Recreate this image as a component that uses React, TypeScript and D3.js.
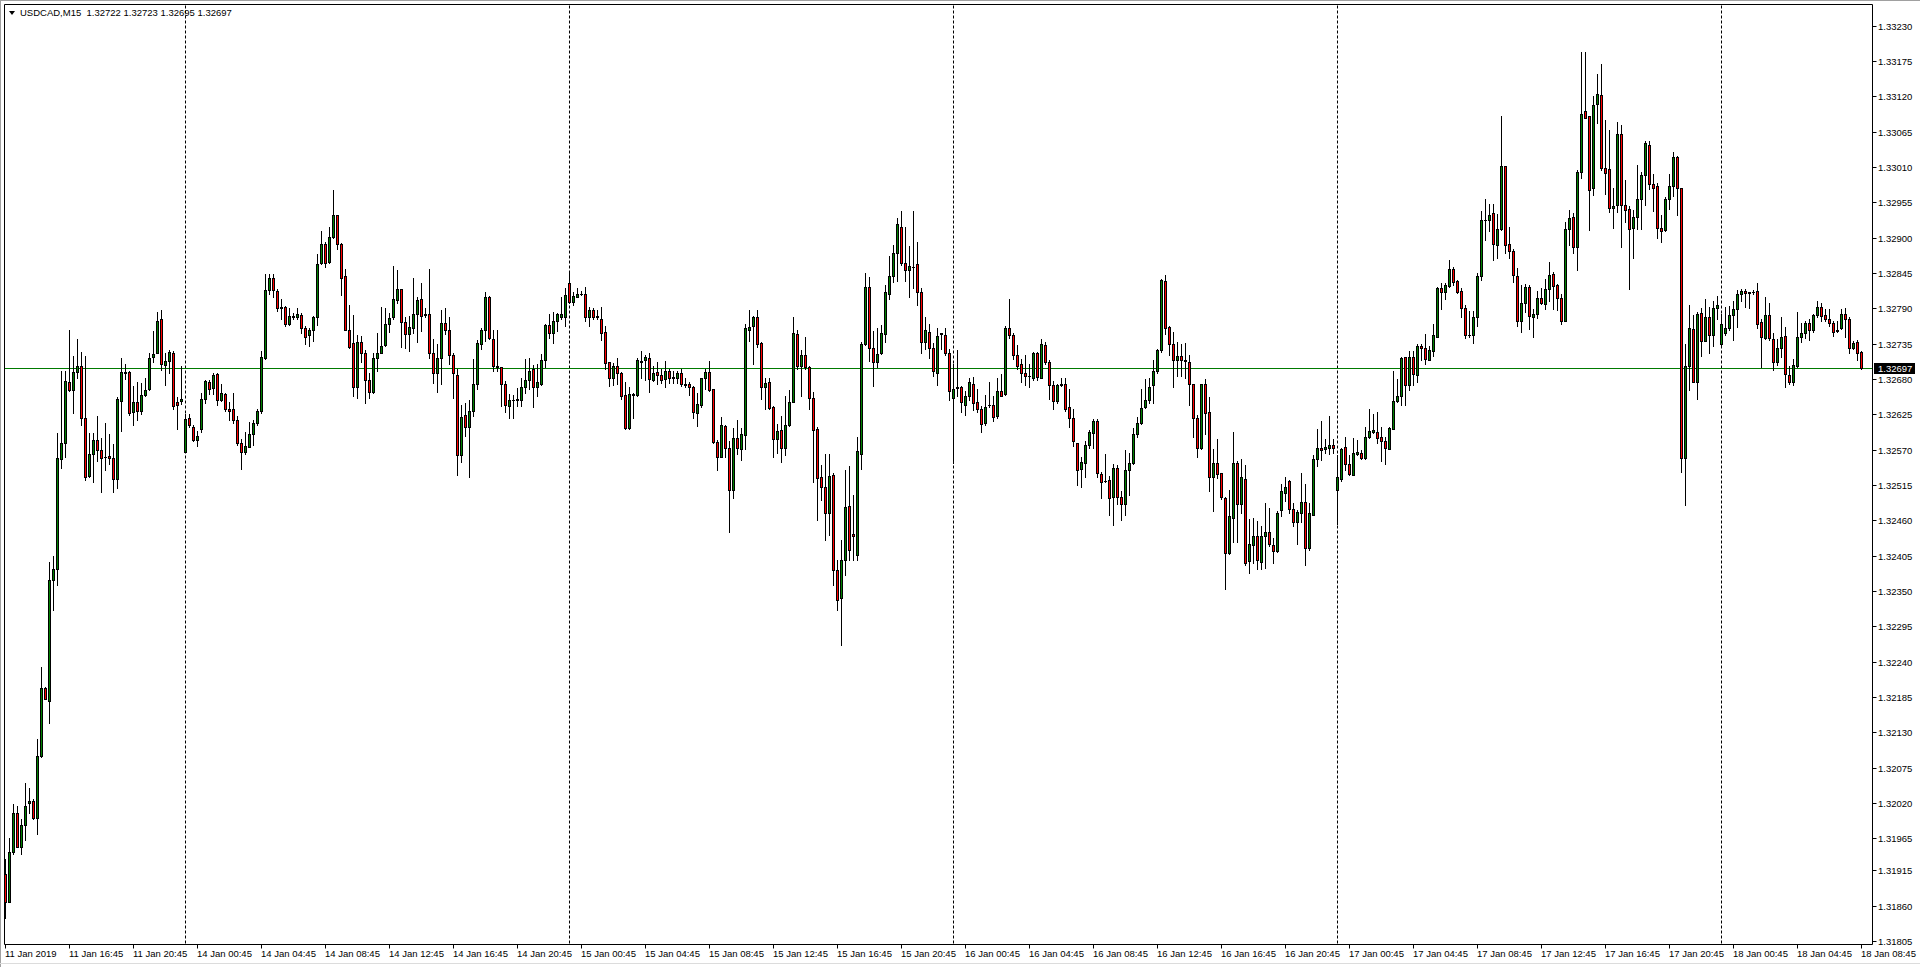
import React from "react";
import * as d3 from "d3";

// USDCAD M15 bars, 11 Jan 2019 12:45 -> 18 Jan 2019 08:45
const openPrices = [
1.31910,1.31866,1.31943,1.32005,1.31952,1.31985,1.32020,1.32023,1.31996,1.32093,
1.32199,1.32179,1.32367,1.32384,1.32555,1.32580,1.32675,1.32663,1.32691,1.32701,
1.32619,1.32529,1.32563,1.32585,1.32569,1.32559,1.32560,1.32557,1.32524,1.32646,
1.32691,1.32691,1.32628,1.32644,1.32630,1.32655,1.32664,1.32715,1.32721,1.32773,
1.32702,1.32708,1.32721,1.32644,1.32646,1.32567,1.32619,1.32605,1.32585,1.32602,
1.32649,1.32675,1.32666,1.32688,1.32648,1.32657,1.32633,1.32633,1.32616,1.32580,
1.32566,1.32574,1.32594,1.32611,1.32630,1.32713,1.32818,1.32837,1.32817,1.32792,
1.32792,1.32766,1.32777,1.32776,1.32779,1.32759,1.32748,1.32756,1.32777,1.32860,
1.32890,1.32863,1.32901,1.32935,1.32891,1.32840,1.32756,1.32736,1.32668,1.32737,
1.32721,1.32678,1.32660,1.32713,1.32721,1.32733,1.32766,1.32776,1.32803,1.32820,
1.32769,1.32750,1.32759,1.32781,1.32804,1.32781,1.32781,1.32721,1.32689,1.32712,
1.32767,1.32756,1.32718,1.32687,1.32561,1.32624,1.32605,1.32631,1.32672,1.32734,
1.32756,1.32808,1.32743,1.32700,1.32698,1.32672,1.32638,1.32648,1.32648,1.32648,
1.32668,1.32679,1.32696,1.32668,1.32673,1.32709,1.32764,1.32752,1.32770,1.32777,
1.32777,1.32829,1.32800,1.32808,1.32813,1.32812,1.32777,1.32788,1.32778,1.32773,
1.32753,1.32706,1.32682,1.32700,1.32689,1.32655,1.32603,1.32655,1.32655,1.32708,
1.32710,1.32712,1.32678,1.32691,1.32686,1.32680,1.32693,1.32682,1.32681,1.32689,
1.32673,1.32673,1.32668,1.32627,1.32639,1.32681,1.32691,1.32664,1.32582,1.32559,
1.32607,1.32572,1.32508,1.32588,1.32571,1.32593,1.32757,1.32762,1.32777,1.32736,
1.32667,1.32675,1.32637,1.32587,1.32601,1.32573,1.32608,1.32645,1.32750,1.32700,
1.32717,1.32698,1.32651,1.32602,1.32528,1.32512,1.32472,1.32530,1.32382,1.32339,
1.32398,1.32482,1.32439,1.32406,1.32564,1.32734,1.32823,1.32728,1.32706,1.32720,
1.32750,1.32813,1.32840,1.32877,1.32917,1.32860,1.32850,1.32855,1.32859,1.32815,
1.32738,1.32753,1.32728,1.32689,1.32751,1.32748,1.32721,1.32650,1.32666,1.32668,
1.32639,1.32654,1.32673,1.32644,1.32633,1.32611,1.32639,1.32639,1.32622,1.32661,
1.32656,1.32759,1.32749,1.32717,1.32703,1.32689,1.32684,1.32682,1.32720,1.32682,
1.32733,1.32707,1.32670,1.32646,1.32671,1.32672,1.32637,1.32619,1.32580,1.32540,
1.32550,1.32577,1.32596,1.32615,1.32532,1.32521,1.32523,1.32497,1.32541,1.32496,
1.32485,1.32538,1.32549,1.32594,1.32611,1.32637,1.32647,1.32671,1.32692,1.32725,
1.32833,1.32761,1.32734,1.32710,1.32716,1.32709,1.32707,1.32672,1.32619,1.32572,
1.32672,1.32628,1.32528,1.32550,1.32533,1.32495,1.32409,1.32464,1.32549,1.32485,
1.32525,1.32397,1.32421,1.32436,1.32395,1.32436,1.32442,1.32422,1.32412,1.32476,
1.32503,1.32521,1.32478,1.32458,1.32472,1.32489,1.32417,1.32469,1.32555,1.32573,
1.32571,1.32573,1.32578,1.32507,1.32524,1.32574,1.32547,1.32530,1.32563,1.32565,
1.32557,1.32589,1.32598,1.32598,1.32589,1.32583,1.32571,1.32602,1.32646,1.32653,
1.32714,1.32670,1.32715,1.32686,1.32731,1.32728,1.32710,1.32724,1.32746,1.32822,
1.32815,1.32825,1.32852,1.32832,1.32817,1.32791,1.32749,1.32748,1.32776,1.32841,
1.32928,1.32927,1.32939,1.32889,1.32914,1.33012,1.32890,1.32880,1.32841,1.32770,
1.32799,1.32824,1.32777,1.32782,1.32806,1.32797,1.32820,1.32844,1.32827,1.32806,
1.32771,1.32914,1.32932,1.32886,1.33003,1.33098,1.33089,1.32978,1.33108,1.33123,
1.33009,1.33007,1.32946,1.32951,1.33062,1.32951,1.32945,1.32915,1.32933,1.32960,
1.32997,1.33045,1.32984,1.32981,1.32915,1.32912,1.32960,1.32981,1.33026,1.32977,
1.32557,1.32700,1.32758,1.32676,1.32783,1.32739,1.32777,1.32748,1.32790,1.32734,
1.32751,1.32759,1.32780,1.32789,1.32812,1.32817,1.32815,1.32816,1.32817,1.32769,
1.32744,1.32780,1.32742,1.32706,1.32729,1.32747,1.32687,1.32676,1.32701,1.32745,
1.32751,1.32767,1.32756,1.32779,1.32792,1.32779,1.32773,1.32767,1.32756,1.32759,
1.32781,1.32773,1.32728,1.32737,1.32722
];

const highPrices = [
1.31932,1.31965,1.32018,1.32015,1.31995,1.32051,1.32043,1.32026,1.32120,1.32231,
1.32201,1.32395,1.32405,1.32596,1.32693,1.32693,1.32757,1.32716,1.32743,1.32722,
1.32716,1.32596,1.32596,1.32622,1.32588,1.32611,1.32594,1.32579,1.32652,1.32713,
1.32704,1.32693,1.32669,1.32676,1.32674,1.32682,1.32720,1.32755,1.32785,1.32787,
1.32720,1.32725,1.32724,1.32652,1.32701,1.32626,1.32626,1.32609,1.32599,1.32658,
1.32679,1.32678,1.32689,1.32689,1.32672,1.32659,1.32644,1.32658,1.32622,1.32587,
1.32597,1.32613,1.32616,1.32634,1.32724,1.32844,1.32843,1.32843,1.32820,1.32804,
1.32794,1.32790,1.32783,1.32790,1.32783,1.32763,1.32759,1.32778,1.32875,1.32911,
1.32894,1.32917,1.32975,1.32935,1.32892,1.32851,1.32795,1.32780,1.32749,1.32747,
1.32725,1.32690,1.32721,1.32751,1.32792,1.32790,1.32783,1.32856,1.32850,1.32820,
1.32777,1.32778,1.32837,1.32807,1.32829,1.32790,1.32852,1.32742,1.32735,1.32787,
1.32791,1.32777,1.32721,1.32695,1.32640,1.32642,1.32647,1.32711,1.32741,1.32760,
1.32816,1.32809,1.32757,1.32756,1.32699,1.32677,1.32656,1.32655,1.32666,1.32682,
1.32711,1.32712,1.32702,1.32703,1.32719,1.32765,1.32782,1.32784,1.32783,1.32807,
1.32821,1.32845,1.32815,1.32821,1.32817,1.32823,1.32792,1.32790,1.32788,1.32792,
1.32762,1.32706,1.32705,1.32712,1.32691,1.32675,1.32668,1.32659,1.32712,1.32723,
1.32717,1.32721,1.32700,1.32706,1.32695,1.32708,1.32695,1.32693,1.32693,1.32696,
1.32682,1.32675,1.32669,1.32658,1.32682,1.32696,1.32708,1.32665,1.32585,1.32621,
1.32608,1.32583,1.32603,1.32616,1.32603,1.32765,1.32787,1.32778,1.32787,1.32737,
1.32682,1.32681,1.32638,1.32610,1.32622,1.32654,1.32663,1.32777,1.32756,1.32725,
1.32746,1.32700,1.32660,1.32605,1.32546,1.32564,1.32564,1.32534,1.32398,1.32429,
1.32538,1.32544,1.32499,1.32590,1.32737,1.32845,1.32839,1.32755,1.32760,1.32764,
1.32826,1.32872,1.32888,1.32930,1.32942,1.32916,1.32887,1.32942,1.32894,1.32821,
1.32777,1.32765,1.32736,1.32760,1.32752,1.32760,1.32726,1.32703,1.32725,1.32669,
1.32662,1.32682,1.32683,1.32665,1.32638,1.32655,1.32675,1.32654,1.32682,1.32688,
1.32763,1.32804,1.32752,1.32733,1.32711,1.32717,1.32704,1.32722,1.32722,1.32742,
1.32738,1.32710,1.32677,1.32672,1.32682,1.32682,1.32665,1.32633,1.32581,1.32559,
1.32584,1.32600,1.32617,1.32617,1.32535,1.32563,1.32529,1.32547,1.32546,1.32506,
1.32570,1.32565,1.32604,1.32621,1.32664,1.32680,1.32682,1.32709,1.32726,1.32835,
1.32842,1.32763,1.32753,1.32737,1.32734,1.32736,1.32717,1.32673,1.32624,1.32673,
1.32680,1.32652,1.32571,1.32586,1.32534,1.32497,1.32508,1.32598,1.32552,1.32556,
1.32546,1.32462,1.32463,1.32459,1.32451,1.32487,1.32479,1.32432,1.32475,1.32516,
1.32528,1.32523,1.32487,1.32476,1.32534,1.32516,1.32487,1.32561,1.32602,1.32614,
1.32586,1.32622,1.32587,1.32561,1.32572,1.32590,1.32561,1.32588,1.32585,1.32569,
1.32605,1.32634,1.32625,1.32628,1.32605,1.32590,1.32606,1.32693,1.32680,1.32715,
1.32715,1.32723,1.32723,1.32735,1.32734,1.32750,1.32731,1.32765,1.32824,1.32829,
1.32830,1.32866,1.32854,1.32834,1.32822,1.32796,1.32786,1.32786,1.32845,1.32942,
1.32961,1.32953,1.32952,1.32937,1.33090,1.33012,1.32916,1.32883,1.32853,1.32827,
1.32828,1.32826,1.32789,1.32817,1.32822,1.32836,1.32862,1.32846,1.32828,1.32812,
1.32925,1.32943,1.32938,1.33006,1.33189,1.33189,1.33090,1.33121,1.33155,1.33170,
1.33084,1.33067,1.32978,1.33080,1.33075,1.32990,1.32950,1.32943,1.33014,1.33002,
1.33051,1.33051,1.32999,1.32985,1.32936,1.32963,1.32999,1.33034,1.33028,1.32978,
1.32735,1.32796,1.32779,1.32784,1.32791,1.32805,1.32792,1.32801,1.32810,1.32781,
1.32792,1.32793,1.32802,1.32819,1.32820,1.32820,1.32816,1.32819,1.32829,1.32773,
1.32807,1.32799,1.32751,1.32742,1.32776,1.32761,1.32701,1.32711,1.32785,1.32767,
1.32771,1.32773,1.32781,1.32802,1.32798,1.32789,1.32789,1.32771,1.32771,1.32789,
1.32790,1.32776,1.32740,1.32741,1.32723
];

const lowPrices = [
1.31841,1.31865,1.31941,1.31951,1.31941,1.31963,1.32004,1.31995,1.31971,1.32092,
1.32182,1.32145,1.32320,1.32359,1.32542,1.32559,1.32661,1.32627,1.32681,1.32609,
1.32523,1.32527,1.32520,1.32552,1.32504,1.32538,1.32547,1.32504,1.32511,1.32599,
1.32680,1.32624,1.32609,1.32616,1.32625,1.32654,1.32663,1.32707,1.32720,1.32694,
1.32671,1.32690,1.32634,1.32602,1.32641,1.32566,1.32605,1.32583,1.32576,1.32597,
1.32643,1.32656,1.32657,1.32639,1.32646,1.32630,1.32616,1.32611,1.32577,1.32540,
1.32563,1.32574,1.32577,1.32609,1.32627,1.32711,1.32813,1.32808,1.32786,1.32774,
1.32763,1.32764,1.32773,1.32774,1.32752,1.32734,1.32731,1.32739,1.32764,1.32859,
1.32854,1.32860,1.32900,1.32883,1.32811,1.32756,1.32729,1.32654,1.32651,1.32707,
1.32642,1.32651,1.32659,1.32692,1.32720,1.32731,1.32753,1.32774,1.32799,1.32730,
1.32729,1.32723,1.32752,1.32738,1.32755,1.32776,1.32712,1.32674,1.32660,1.32673,
1.32750,1.32703,1.32651,1.32530,1.32551,1.32591,1.32528,1.32622,1.32664,1.32726,
1.32739,1.32743,1.32693,1.32693,1.32638,1.32629,1.32619,1.32620,1.32638,1.32638,
1.32659,1.32664,1.32637,1.32653,1.32670,1.32698,1.32744,1.32736,1.32755,1.32774,
1.32762,1.32799,1.32796,1.32808,1.32811,1.32770,1.32762,1.32774,1.32774,1.32741,
1.32696,1.32669,1.32671,1.32673,1.32649,1.32602,1.32602,1.32620,1.32654,1.32681,
1.32679,1.32660,1.32677,1.32673,1.32674,1.32668,1.32674,1.32674,1.32674,1.32669,
1.32667,1.32655,1.32620,1.32607,1.32637,1.32665,1.32661,1.32580,1.32538,1.32559,
1.32558,1.32442,1.32495,1.32563,1.32554,1.32571,1.32739,1.32703,1.32730,1.32649,
1.32633,1.32633,1.32559,1.32565,1.32551,1.32562,1.32607,1.32644,1.32695,1.32654,
1.32696,1.32634,1.32520,1.32460,1.32491,1.32429,1.32437,1.32359,1.32320,1.32266,
1.32375,1.32398,1.32398,1.32398,1.32540,1.32733,1.32708,1.32669,1.32699,1.32719,
1.32738,1.32805,1.32831,1.32833,1.32857,1.32833,1.32807,1.32822,1.32796,1.32720,
1.32727,1.32713,1.32684,1.32671,1.32727,1.32717,1.32648,1.32549,1.32653,1.32629,
1.32624,1.32648,1.32632,1.32628,1.32598,1.32608,1.32637,1.32615,1.32620,1.32654,
1.32655,1.32744,1.32711,1.32695,1.32676,1.32670,1.32668,1.32679,1.32678,1.32681,
1.32703,1.32649,1.32634,1.32643,1.32669,1.32630,1.32606,1.32576,1.32515,1.32512,
1.32528,1.32573,1.32573,1.32528,1.32495,1.32519,1.32468,1.32452,1.32486,1.32460,
1.32469,1.32499,1.32547,1.32590,1.32610,1.32635,1.32643,1.32643,1.32689,1.32722,
1.32750,1.32717,1.32668,1.32685,1.32685,1.32682,1.32639,1.32590,1.32558,1.32571,
1.32594,1.32506,1.32474,1.32526,1.32493,1.32353,1.32407,1.32426,1.32426,1.32472,
1.32390,1.32378,1.32394,1.32384,1.32384,1.32385,1.32420,1.32393,1.32411,1.32466,
1.32490,1.32472,1.32451,1.32423,1.32457,1.32390,1.32414,1.32468,1.32544,1.32554,
1.32565,1.32564,1.32565,1.32455,1.32521,1.32538,1.32530,1.32530,1.32562,1.32556,
1.32556,1.32588,1.32596,1.32580,1.32552,1.32547,1.32571,1.32602,1.32645,1.32639,
1.32640,1.32663,1.32670,1.32675,1.32709,1.32704,1.32709,1.32716,1.32745,1.32789,
1.32805,1.32824,1.32827,1.32814,1.32777,1.32744,1.32746,1.32736,1.32763,1.32834,
1.32896,1.32911,1.32866,1.32869,1.32912,1.32876,1.32869,1.32831,1.32763,1.32753,
1.32784,1.32758,1.32745,1.32775,1.32797,1.32789,1.32802,1.32789,1.32788,1.32765,
1.32770,1.32889,1.32876,1.32850,1.32993,1.33087,1.32912,1.32966,1.33078,1.33006,
1.32968,1.32940,1.32915,1.32940,1.32885,1.32924,1.32820,1.32869,1.32913,1.32913,
1.32951,1.32976,1.32941,1.32900,1.32893,1.32911,1.32945,1.32965,1.32936,1.32535,
1.32484,1.32663,1.32675,1.32649,1.32716,1.32739,1.32720,1.32731,1.32773,1.32733,
1.32749,1.32756,1.32741,1.32761,1.32801,1.32792,1.32790,1.32813,1.32760,1.32698,
1.32742,1.32741,1.32694,1.32702,1.32715,1.32667,1.32673,1.32670,1.32699,1.32737,
1.32744,1.32741,1.32753,1.32776,1.32771,1.32771,1.32763,1.32747,1.32753,1.32758,
1.32745,1.32720,1.32726,1.32709,1.32695
];

const closePrices = [
1.31866,1.31944,1.32005,1.31952,1.31985,1.32015,1.32023,1.31996,1.32093,1.32199,
1.32182,1.32367,1.32384,1.32557,1.32581,1.32677,1.32663,1.32691,1.32701,1.32619,
1.32528,1.32563,1.32585,1.32570,1.32557,1.32558,1.32557,1.32524,1.32649,1.32691,
1.32690,1.32627,1.32644,1.32630,1.32655,1.32663,1.32713,1.32719,1.32771,1.32703,
1.32708,1.32722,1.32638,1.32639,1.32649,1.32618,1.32608,1.32585,1.32591,1.32649,
1.32677,1.32664,1.32686,1.32648,1.32658,1.32633,1.32631,1.32616,1.32580,1.32567,
1.32576,1.32594,1.32611,1.32630,1.32715,1.32818,1.32837,1.32818,1.32791,1.32791,
1.32766,1.32778,1.32778,1.32781,1.32759,1.32746,1.32756,1.32777,1.32859,1.32890,
1.32861,1.32901,1.32935,1.32891,1.32838,1.32756,1.32730,1.32668,1.32738,1.32721,
1.32678,1.32660,1.32713,1.32721,1.32731,1.32766,1.32775,1.32804,1.32820,1.32769,
1.32750,1.32761,1.32781,1.32803,1.32778,1.32780,1.32720,1.32689,1.32712,1.32767,
1.32756,1.32718,1.32689,1.32561,1.32621,1.32605,1.32631,1.32672,1.32736,1.32756,
1.32808,1.32744,1.32701,1.32699,1.32672,1.32639,1.32648,1.32647,1.32649,1.32668,
1.32679,1.32693,1.32667,1.32675,1.32710,1.32764,1.32751,1.32770,1.32781,1.32781,
1.32811,1.32800,1.32809,1.32813,1.32812,1.32777,1.32787,1.32777,1.32776,1.32752,
1.32705,1.32681,1.32700,1.32690,1.32654,1.32603,1.32656,1.32656,1.32710,1.32707,
1.32714,1.32680,1.32689,1.32687,1.32678,1.32693,1.32682,1.32683,1.32689,1.32672,
1.32671,1.32668,1.32629,1.32641,1.32681,1.32691,1.32663,1.32582,1.32559,1.32608,
1.32573,1.32507,1.32588,1.32572,1.32595,1.32759,1.32761,1.32777,1.32735,1.32667,
1.32674,1.32635,1.32587,1.32599,1.32573,1.32608,1.32644,1.32751,1.32700,1.32717,
1.32698,1.32650,1.32600,1.32526,1.32512,1.32471,1.32529,1.32382,1.32336,1.32398,
1.32481,1.32414,1.32435,1.32568,1.32734,1.32823,1.32728,1.32707,1.32719,1.32751,
1.32816,1.32840,1.32876,1.32921,1.32860,1.32850,1.32856,1.32855,1.32816,1.32738,
1.32756,1.32728,1.32692,1.32747,1.32750,1.32720,1.32662,1.32665,1.32667,1.32645,
1.32654,1.32675,1.32642,1.32633,1.32610,1.32637,1.32640,1.32621,1.32662,1.32654,
1.32759,1.32749,1.32717,1.32701,1.32689,1.32685,1.32684,1.32720,1.32683,1.32734,
1.32707,1.32670,1.32646,1.32671,1.32672,1.32634,1.32619,1.32583,1.32539,1.32551,
1.32577,1.32598,1.32615,1.32533,1.32520,1.32521,1.32495,1.32541,1.32496,1.32486,
1.32538,1.32549,1.32594,1.32611,1.32635,1.32647,1.32668,1.32692,1.32725,1.32834,
1.32759,1.32734,1.32709,1.32716,1.32709,1.32708,1.32672,1.32619,1.32573,1.32672,
1.32627,1.32528,1.32550,1.32532,1.32496,1.32409,1.32467,1.32550,1.32486,1.32528,
1.32393,1.32423,1.32436,1.32398,1.32436,1.32442,1.32423,1.32412,1.32471,1.32505,
1.32512,1.32477,1.32458,1.32473,1.32489,1.32417,1.32471,1.32556,1.32572,1.32570,
1.32574,1.32578,1.32573,1.32528,1.32571,1.32547,1.32532,1.32565,1.32566,1.32557,
1.32589,1.32599,1.32600,1.32588,1.32583,1.32573,1.32604,1.32646,1.32653,1.32713,
1.32670,1.32715,1.32688,1.32732,1.32728,1.32711,1.32725,1.32748,1.32822,1.32815,
1.32826,1.32852,1.32831,1.32815,1.32791,1.32748,1.32748,1.32777,1.32841,1.32928,
1.32927,1.32936,1.32890,1.32914,1.33012,1.32889,1.32879,1.32842,1.32770,1.32799,
1.32824,1.32778,1.32782,1.32806,1.32799,1.32820,1.32842,1.32825,1.32806,1.32771,
1.32914,1.32931,1.32885,1.33003,1.33093,1.33087,1.32975,1.33107,1.33124,1.33008,
1.33001,1.32947,1.32950,1.33062,1.32951,1.32943,1.32914,1.32933,1.32960,1.32997,
1.33047,1.32984,1.32977,1.32915,1.32910,1.32960,1.32981,1.33026,1.32977,1.32557,
1.32700,1.32759,1.32676,1.32781,1.32740,1.32777,1.32748,1.32790,1.32796,1.32766,
1.32759,1.32780,1.32789,1.32812,1.32817,1.32814,1.32814,1.32815,1.32766,1.32745,
1.32780,1.32744,1.32706,1.32728,1.32746,1.32688,1.32676,1.32702,1.32746,1.32751,
1.32767,1.32756,1.32779,1.32792,1.32778,1.32773,1.32767,1.32753,1.32755,1.32781,
1.32773,1.32728,1.32736,1.32721,1.32697
];

// x-axis labels, one every 16 bars (4 hours)
const xTickLabels = [
  "11 Jan 2019", "11 Jan 16:45", "11 Jan 20:45", "14 Jan 00:45", "14 Jan 04:45",
  "14 Jan 08:45", "14 Jan 12:45", "14 Jan 16:45", "14 Jan 20:45", "15 Jan 00:45",
  "15 Jan 04:45", "15 Jan 08:45", "15 Jan 12:45", "15 Jan 16:45", "15 Jan 20:45",
  "16 Jan 00:45", "16 Jan 04:45", "16 Jan 08:45", "16 Jan 12:45", "16 Jan 16:45",
  "16 Jan 20:45", "17 Jan 00:45", "17 Jan 04:45", "17 Jan 08:45", "17 Jan 12:45",
  "17 Jan 16:45", "17 Jan 20:45", "18 Jan 00:45", "18 Jan 04:45", "18 Jan 08:45"
];
const barsPerLabel = 16;

const yTickValues = [
  1.33230, 1.33175, 1.33120, 1.33065, 1.33010, 1.32955, 1.32900, 1.32845, 1.32790,
  1.32735, 1.32680, 1.32625, 1.32570, 1.32515, 1.32460, 1.32405, 1.32350, 1.32295,
  1.32240, 1.32185, 1.32130, 1.32075, 1.32020, 1.31965, 1.31915, 1.31860, 1.31805
];

// bar index of the first bar of each new day (period separators)
const daySeparatorBars = [45, 141, 237, 333, 429];

const symbolTitle = "USDCAD,M15";
const lastBarText = "1.32722 1.32723 1.32695 1.32697";
const bidPrice = 1.32697;

const FONT = "'Liberation Sans', Arial, sans-serif";
const BULL = "#008000";
const BEAR = "#ff0000";

export default function App() {
  const W = 1920;
  const H = 967;
  const plotLeft = 4.5;
  const plotTop = 4.5;
  const plotRight = 1872.5;
  const plotBottom = 944.5;

  const n = openPrices.length;
  const x = d3.scaleLinear().domain([0, n - 1]).range([5.5, 5.5 + 4 * (n - 1)]);
  const y = d3.scaleLinear().domain([1.31805, 1.3323]).range([941, 25.8]);

  const px = (i: number) => Math.round(x(i) - 0.5) + 0.5;
  const py = (v: number) => Math.round(y(v));

  const candles = d3.range(n).map((i) => {
    const o = openPrices[i];
    const c = closePrices[i];
    const hi = Math.max(highPrices[i], o, c);
    const lo = Math.min(lowPrices[i], o, c);
    const cx = px(i);
    const top = py(Math.max(o, c));
    const bot = py(Math.min(o, c));
    return { i, o, c, hi, lo, cx, top, bot, bull: c >= o };
  });

  const bidY = py(bidPrice) + 0.5;

  return (
    <div style={{ position: "fixed", left: 0, top: 0, width: W, height: H, background: "#fff" }}>
      <svg width={W} height={H} style={{ display: "block" }} fontFamily={FONT}>
        <rect x={0} y={0} width={W} height={H} fill="#ffffff" />
        {/* window edges */}
        <line x1={0} y1={0.5} x2={W} y2={0.5} stroke="#a0a0a0" />
        <line x1={0.5} y1={0} x2={0.5} y2={H} stroke="#a0a0a0" />
        <line x1={0} y1={963.5} x2={W} y2={963.5} stroke="#dcdcdc" />

        {/* period separators */}
        {daySeparatorBars.map((b) => (
          <line key={"sep" + b} x1={px(b)} x2={px(b)} y1={plotTop + 1} y2={plotBottom}
            stroke="#000" strokeDasharray="3,2" />
        ))}

        {/* bid line */}
        <line x1={plotLeft} x2={plotRight} y1={bidY} y2={bidY} stroke="#007a00" />

        {/* wicks */}
        {candles.map((d) => (
          <line key={"w" + d.i} x1={d.cx} x2={d.cx} y1={py(d.hi)} y2={py(d.lo) + 1}
            stroke="#000" strokeWidth={1} />
        ))}
        {/* bodies */}
        {candles.map((d) =>
          d.bot - d.top >= 1 ? (
            <rect key={"b" + d.i} x={d.cx - 1} y={d.top + 0.5} width={2} height={d.bot - d.top}
              fill={d.bull ? BULL : BEAR} stroke="#000" strokeWidth={1} />
          ) : (
            <line key={"b" + d.i} x1={d.cx - 1.5} x2={d.cx + 1.5} y1={d.top + 0.5} y2={d.top + 0.5}
              stroke="#000" strokeWidth={1} />
          )
        )}

        {/* frame */}
        <line x1={plotLeft} y1={plotTop} x2={plotRight} y2={plotTop} stroke="#000" />
        <line x1={plotLeft} y1={plotTop} x2={plotLeft} y2={plotBottom} stroke="#000" />
        <line x1={plotRight} y1={plotTop} x2={plotRight} y2={plotBottom} stroke="#000" />
        <line x1={plotLeft} y1={plotBottom} x2={plotRight} y2={plotBottom} stroke="#000" />

        {/* price axis */}
        {yTickValues.map((v) => {
          const yy = py(v) + 0.5;
          return (
            <g key={"yt" + v}>
              <line x1={plotRight} x2={plotRight + 4} y1={yy} y2={yy} stroke="#000" />
              <text x={1878} y={yy + 3.5} fontSize={9.5} fill="#000">{v.toFixed(5)}</text>
            </g>
          );
        })}
        <rect x={1874} y={bidY - 5.5} width={41} height={11} fill="#000" />
        <text x={1878} y={bidY + 3.5} fontSize={9.5} fill="#fff">{bidPrice.toFixed(5)}</text>

        {/* time axis */}
        {xTickLabels.map((lab, k) => {
          const xx = px(k * barsPerLabel);
          return (
            <g key={"xt" + k}>
              <line x1={xx} x2={xx} y1={plotBottom} y2={plotBottom + 4} stroke="#000" />
              <text x={xx - 0.5} y={957} fontSize={9.5} fill="#000">{lab}</text>
            </g>
          );
        })}

        {/* header */}
        <polygon points="9,11 15,11 12,15" fill="#000" />
        <text x={20} y={16} fontSize={9.5} fill="#000" style={{ whiteSpace: "pre" }}>
          {symbolTitle + "  " + lastBarText}
        </text>
      </svg>
    </div>
  );
}
